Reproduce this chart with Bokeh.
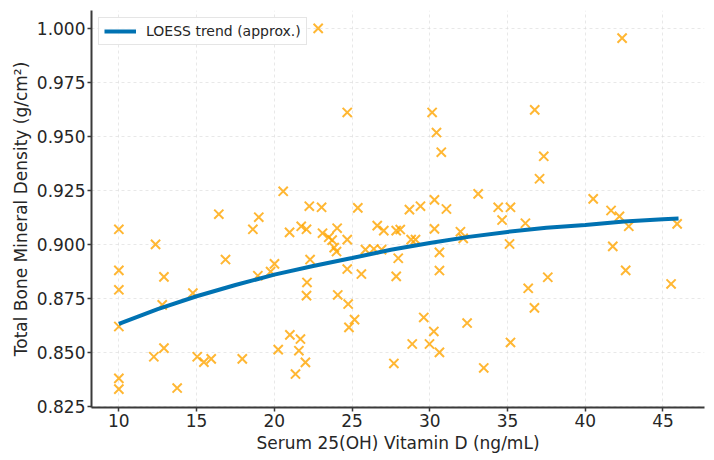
from bokeh.plotting import figure
from bokeh.models import ColumnDataSource, FixedTicker, NumeralTickFormatter, Range1d
from bokeh.embed import file_html
from bokeh.resources import INLINE

# Serum 25(OH) vitamin D (ng/mL) for each subject
vitamin_d = [
    10.0, 10.0, 10.0, 10.0, 10.0, 10.0, 12.25, 12.36, 12.79, 12.9,
    12.9, 13.75, 14.76, 15.04, 15.47, 15.94, 16.43, 16.86, 17.94, 18.62,
    18.94, 19.0, 19.76, 20.01, 20.25, 20.57, 20.98, 21.0, 21.36, 21.58,
    21.68, 21.73, 22.0, 22.07, 22.1, 22.07, 22.25, 22.3, 22.82, 23.04,
    23.1, 23.5, 23.72, 23.85, 24.0, 24.04, 24.08, 24.69, 24.69, 24.69,
    24.75, 24.8, 25.16, 25.37, 25.6, 25.86, 26.4, 26.62, 26.9, 27.04,
    27.69, 27.84, 27.84, 27.97, 28.1, 28.69, 28.8, 28.87, 29.08, 29.4,
    29.61, 29.98, 30.15, 30.26, 30.3, 30.3, 30.43, 30.62, 30.62, 30.62,
    30.74, 31.07, 31.97, 32.15, 32.4, 33.11, 33.47, 34.4, 34.65, 35.13,
    35.19, 35.19, 36.15, 36.33, 36.73, 36.75, 37.06, 37.33, 37.59, 40.51,
    41.66, 41.77, 42.2, 42.37, 42.6, 42.8, 45.52, 45.91,
]

# Total bone mineral density (g/cm²) for the same subjects
bmd = [
    0.907, 0.888, 0.879, 0.862, 0.838, 0.833, 0.848, 0.900, 0.872, 0.885,
    0.852, 0.8335, 0.8775, 0.848, 0.8455, 0.847, 0.914, 0.893, 0.847, 0.907,
    0.8855, 0.9126, 0.8874, 0.891, 0.8513, 0.9246, 0.9056, 0.8581, 0.840, 0.8508,
    0.8562, 0.9084, 0.8454, 0.907, 0.8824, 0.8763, 0.9177, 0.893, 1.000, 0.9172,
    0.9052, 0.9033, 0.902, 0.8985, 0.8967, 0.9075, 0.8766, 0.9611, 0.9022, 0.8886,
    0.8724, 0.8616, 0.8652, 0.9169, 0.8863, 0.8976, 0.8979, 0.9087, 0.8976, 0.9064,
    0.8449, 0.9064, 0.8852, 0.8936, 0.9069, 0.9161, 0.9022, 0.8539, 0.9022, 0.9177,
    0.8662, 0.8539, 0.9611, 0.8597, 0.9206, 0.9072, 0.9518, 0.8963, 0.8879, 0.850,
    0.9427, 0.9164, 0.9059, 0.9028, 0.8636, 0.9234, 0.8428, 0.9172, 0.9113, 0.9002,
    0.9172, 0.8546, 0.9098, 0.8797, 0.8706, 0.9623, 0.9304, 0.9408, 0.8848, 0.9211,
    0.9157, 0.8991, 0.913, 0.9955, 0.888, 0.9084, 0.8817, 0.9095,
]

# Smoothed LOESS trend evaluated along the vitamin D axis
trend_x = [10.0, 12.5, 15.0, 17.5, 20.0, 22.5, 25.0, 27.5, 30.0, 32.5, 35.0, 37.5, 40.0, 42.5, 45.0, 46.0]
trend_y = [0.8632, 0.8700, 0.8760, 0.8812, 0.8860, 0.8900, 0.8937, 0.8975, 0.9007, 0.9035, 0.9058, 0.9077,
           0.9090, 0.9106, 0.9117, 0.9120]

x_ticks = [10, 15, 20, 25, 30, 35, 40, 45]
y_ticks = [0.825, 0.850, 0.875, 0.900, 0.925, 0.950, 0.975, 1.000]

FONT = "DejaVu Sans"
TEXT = "#262626"
SPINE = "#3a3a3a"

p = figure(
    width=714, height=460,
    x_range=Range1d(8.24, 47.67), y_range=Range1d(0.8245, 1.0083),
    output_backend="svg", toolbar_location=None,
    min_border_left=91, min_border_right=10, min_border_top=10, min_border_bottom=53,
)
p.outline_line_color = None
p.background_fill_color = "white"
p.border_fill_color = "white"

pts = ColumnDataSource(dict(x=vitamin_d, y=bmd))
p.scatter("x", "y", source=pts, marker="x", size=13, line_width=2,
          line_color="#FFA500", line_alpha=0.8)

trend = ColumnDataSource(dict(x=trend_x, y=trend_y))
p.line("x", "y", source=trend, line_color="#0072B2", line_width=4,
       legend_label="LOESS trend (approx.)")

# axes
p.xaxis.ticker = FixedTicker(ticks=x_ticks)
p.yaxis.ticker = FixedTicker(ticks=y_ticks)
p.yaxis.formatter = NumeralTickFormatter(format="0.000")
p.xaxis.axis_label = "Serum 25(OH) Vitamin D (ng/mL)"
p.yaxis.axis_label = "Total Bone Mineral Density (g/cm²)"
for ax in (p.xaxis, p.yaxis):
    ax.axis_label_text_font = FONT
    ax.axis_label_text_font_size = "17px"
    ax.axis_label_text_font_style = "normal"
    ax.axis_label_text_color = TEXT
    ax.axis_label_standoff = 3
    ax.major_label_text_font = FONT
    ax.major_label_text_font_size = "17px"
    ax.major_label_text_color = TEXT
    ax.major_label_standoff = 2
    ax.axis_line_color = SPINE
    ax.axis_line_width = 2
    ax.major_tick_line_color = SPINE
    ax.major_tick_line_width = 1.5
    ax.major_tick_out = 4
    ax.major_tick_in = 0
    ax.minor_tick_line_color = None

# faint dashed grid
for g in (p.xgrid, p.ygrid):
    g.grid_line_color = "#d9d9d9"
    g.grid_line_alpha = 0.6
    g.grid_line_dash = "3 3"
    g.grid_line_width = 1

# legend
lg = p.legend[0]
lg.location = "top_left"
lg.margin = 7
lg.padding = 5
lg.spacing = 0
lg.glyph_width = 32
lg.glyph_height = 16
lg.label_height = 16
lg.label_standoff = 10
lg.label_text_font = FONT
lg.label_text_font_size = "14px"
lg.label_text_color = TEXT
lg.border_line_color = "#cccccc"
lg.border_line_width = 1
lg.background_fill_color = "white"
lg.background_fill_alpha = 0.8

open("out.html", "w").write(file_html(p, INLINE))
